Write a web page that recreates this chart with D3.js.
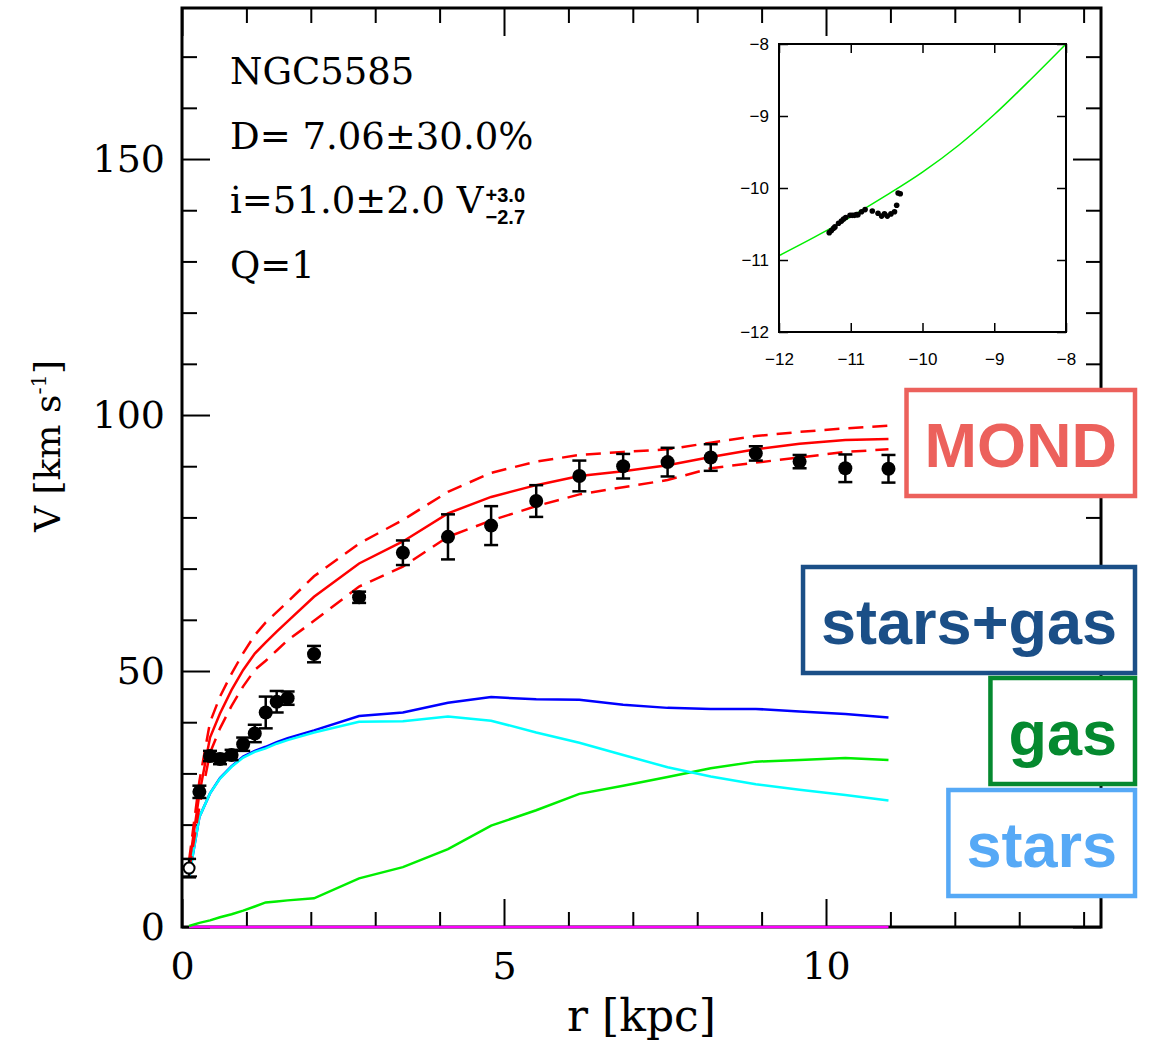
<!DOCTYPE html>
<html>
<head>
<meta charset="utf-8">
<script src="https://cdn.jsdelivr.net/npm/d3@7"></script>
<style>
  body { margin: 0; background: #fff; }
  svg { display: block; }
</style>
</head>
<body>
<svg id="chart" width="1149" height="1045"></svg>
<script>
// ---- rotation curve of NGC5585 ----
const radius  = [0.11, 0.27, 0.435, 0.59, 0.77, 0.95, 1.13, 1.30, 1.47, 1.64, 2.05, 2.75,
                 3.43, 4.13, 4.80, 5.50, 6.17, 6.85, 7.54, 8.21, 8.91, 9.59, 10.30, 10.97];
const vObs    = [11.5, 26.4, 33.4, 32.8, 33.6, 35.7, 37.8, 41.9, 44.0, 44.7, 53.3, 64.4,
                 73.1, 76.2, 78.4, 83.2, 88.1, 90.0, 90.8, 91.7, 92.5, 90.9, 89.6, 89.5];
const vErr    = [1.8, 1.2, 1.0, 1.0, 1.0, 1.3, 1.7, 3.1, 2.1, 1.3, 1.6, 1.1,
                 2.4, 4.4, 3.8, 3.1, 3.0, 2.4, 2.8, 2.6, 1.4, 1.3, 2.7, 2.7];
const excluded = [true, false, false, false, false, false, false, false, false, false, false, false,
                  false, false, false, false, false, false, false, false, false, false, false, false];

// model components
const vGas    = [0.2, 0.8, 1.3, 1.9, 2.5, 3.2, 4.0, 4.8, 5.0, 5.2, 5.6, 9.5,
                 11.7, 15.2, 19.8, 22.8, 26.0, 27.6, 29.3, 31.0, 32.3, 32.6, 33.0, 32.6];
const vStars  = [9.8, 21.5, 26.1, 29.0, 31.3, 33.1, 34.2, 34.9, 35.8, 36.5, 38.0, 40.1,
                 40.2, 41.1, 40.3, 38.0, 36.0, 33.6, 31.2, 29.4, 27.9, 26.8, 25.8, 24.7];
const vBar    = [9.8, 21.5, 26.1, 29.1, 31.4, 33.3, 34.4, 35.2, 36.1, 36.9, 38.4, 41.2,
                 41.9, 43.8, 44.9, 44.5, 44.4, 43.4, 42.8, 42.6, 42.6, 42.1, 41.6, 40.9];
const vBulge  = [0, 0, 0, 0, 0, 0, 0, 0, 0, 0, 0, 0,
                 0, 0, 0, 0, 0, 0, 0, 0, 0, 0, 0, 0];
const vMond   = [12.0, 26.0, 37.0, 41.7, 46.3, 50.2, 53.4, 55.6, 57.7, 59.7, 64.5, 71.0,
                 75.3, 80.8, 84.0, 86.3, 88.1, 89.0, 90.2, 91.8, 93.3, 94.4, 95.1, 95.3];
const vMondHi = [13.0, 28.5, 40.0, 45.0, 49.5, 53.5, 57.0, 59.5, 61.5, 63.5, 68.5, 74.9,
                 79.5, 85.0, 88.7, 90.9, 92.2, 92.8, 93.3, 94.6, 95.9, 96.7, 97.4, 97.9];
const vMondLo = [11.0, 23.5, 34.0, 38.8, 43.2, 47.0, 50.2, 52.0, 54.0, 56.0, 59.8, 66.5,
                 70.4, 76.2, 79.4, 82.2, 84.5, 85.9, 87.3, 89.6, 90.7, 91.7, 92.8, 93.3];

const xTickLabels = [0, 5, 10];
const yTickLabels = [0, 50, 100, 150];

const infoLines = ["NGC5585", "D= 7.06\u00b130.0%", "i=51.0\u00b12.0 V", "Q=1"];
const vSup = "+3.0";
const vSub = "\u22122.7";

const legendLabels = ["MOND", "stars+gas", "gas", "stars"];
const legendColors = ["#ec615c", "#1b4f87", "#05892f", "#56a9f6"];

// radial acceleration relation (log10 m s^-2)
const raGbar = [-11.30, -11.27, -11.24, -11.22, -11.17, -11.13, -11.10, -11.07, -11.01, -10.98,
                -10.95, -10.92, -10.90, -10.85, -10.80, -10.70, -10.62, -10.57, -10.53, -10.49,
                -10.44, -10.39, -10.36, -10.34, -10.31];
const raGobs = [-10.62, -10.59, -10.56, -10.54, -10.49, -10.46, -10.43, -10.41, -10.38, -10.38,
                -10.38, -10.37, -10.37, -10.33, -10.30, -10.32, -10.35, -10.39, -10.36, -10.39,
                -10.36, -10.33, -10.24, -10.07, -10.08];
const relGbar = [-12.0, -11.5, -11.0, -10.5, -10.0, -9.5, -9.0, -8.5, -8.0];
const relGobs = [-10.94, -10.68, -10.40, -10.10, -9.78, -9.41, -8.98, -8.50, -8.0];
const insetTicks = [-12, -11, -10, -9, -8];

// ---- layout ----
const svg = d3.select("#chart");
const P = { left: 182, right: 1101, top: 8, bottom: 927 };
const x = d3.scaleLinear().domain([0, 14.27]).range([P.left, P.right]);
const y = d3.scaleLinear().domain([0, 179.5]).range([P.bottom, P.top]);

const serif = "'DejaVu Serif', 'Liberation Serif', serif";
const sans = "'Liberation Sans', Arial, Helvetica, sans-serif";

// ---- axes: ticks point inward on all four sides ----
const minorX = d3.range(0, 15).filter(v => v % 5 !== 0);
const minorY = d3.range(0, 180, 10).filter(v => v % 50 !== 0);
const majorX = [0, 5, 10];
const majorY = [0, 50, 100, 150];

function styleAxis(g, labels) {
  g.select(".domain").remove();
  g.selectAll(".tick line").attr("stroke", "#000").attr("stroke-width", 2);
  if (!labels) g.selectAll(".tick text").remove();
  else g.selectAll(".tick text")
        .attr("font-family", serif).attr("font-size", 38).attr("fill", "#000");
}

svg.append("g").attr("transform", `translate(0,${P.bottom})`)
  .call(d3.axisBottom(x).tickValues(minorX).tickSize(-15)).call(g => styleAxis(g, false));
svg.append("g").attr("transform", `translate(0,${P.bottom})`)
  .call(d3.axisBottom(x).tickValues(xTickLabels).tickSize(-28).tickPadding(25).tickFormat(d3.format("d")))
  .call(g => styleAxis(g, true));
svg.append("g").attr("transform", `translate(0,${P.top})`)
  .call(d3.axisTop(x).tickValues(minorX).tickSize(-15)).call(g => styleAxis(g, false));
svg.append("g").attr("transform", `translate(0,${P.top})`)
  .call(d3.axisTop(x).tickValues(majorX).tickSize(-28)).call(g => styleAxis(g, false));

svg.append("g").attr("transform", `translate(${P.left},0)`)
  .call(d3.axisLeft(y).tickValues(minorY).tickSize(-15)).call(g => styleAxis(g, false));
svg.append("g").attr("transform", `translate(${P.left},0)`)
  .call(d3.axisLeft(y).tickValues(yTickLabels).tickSize(-28).tickPadding(17).tickFormat(d3.format("d")))
  .call(g => styleAxis(g, true));
svg.append("g").attr("transform", `translate(${P.right},0)`)
  .call(d3.axisRight(y).tickValues(minorY).tickSize(-15)).call(g => styleAxis(g, false));
svg.append("g").attr("transform", `translate(${P.right},0)`)
  .call(d3.axisRight(y).tickValues(majorY).tickSize(-28)).call(g => styleAxis(g, false));

svg.append("rect")
  .attr("x", P.left).attr("y", P.top)
  .attr("width", P.right - P.left).attr("height", P.bottom - P.top)
  .attr("fill", "none").attr("stroke", "#000").attr("stroke-width", 3);

// axis titles
svg.append("text")
  .attr("x", (P.left + P.right) / 2).attr("y", 1031)
  .attr("text-anchor", "middle")
  .attr("font-family", serif).attr("font-size", 44)
  .text("r [kpc]");

const yTitle = svg.append("text")
  .attr("transform", "translate(60,446) rotate(-90)")
  .attr("text-anchor", "middle")
  .attr("font-family", serif).attr("font-size", 36);
yTitle.append("tspan").text("V [km s");
yTitle.append("tspan").attr("font-size", 21).attr("dy", -14).text("-1");
yTitle.append("tspan").attr("dy", 14).text("]");

// ---- model curves ----
const idx = d3.range(radius.length);
function curve(values) {
  return d3.line().x(i => x(radius[i])).y(i => y(values[i]))(idx);
}
const curveLayers = [
  { v: vBulge,  color: "#ff00ff", dash: null },
  { v: vGas,    color: "#00ee00", dash: null },
  { v: vBar,    color: "#0000ff", dash: null },
  { v: vStars,  color: "#00ffff", dash: null },
  { v: vMondHi, color: "#ff0000", dash: "15,9" },
  { v: vMondLo, color: "#ff0000", dash: "15,9" },
  { v: vMond,   color: "#ff0000", dash: null }
];
svg.append("g").selectAll("path").data(curveLayers).join("path")
  .attr("d", d => curve(d.v))
  .attr("fill", "none")
  .attr("stroke", d => d.color)
  .attr("stroke-width", 2.5)
  .attr("stroke-dasharray", d => d.dash);

// ---- observed points with error bars ----
const pts = svg.append("g");
const capHalf = 7;
pts.selectAll("line.bar").data(idx).join("line")
  .attr("x1", i => x(radius[i])).attr("x2", i => x(radius[i]))
  .attr("y1", i => y(vObs[i] - vErr[i])).attr("y2", i => y(vObs[i] + vErr[i]))
  .attr("stroke", "#000").attr("stroke-width", 2.5);
pts.selectAll("line.capTop").data(idx).join("line")
  .attr("x1", i => x(radius[i]) - capHalf).attr("x2", i => x(radius[i]) + capHalf)
  .attr("y1", i => y(vObs[i] + vErr[i])).attr("y2", i => y(vObs[i] + vErr[i]))
  .attr("stroke", "#000").attr("stroke-width", 2.5);
pts.selectAll("line.capBot").data(idx).join("line")
  .attr("x1", i => x(radius[i]) - capHalf).attr("x2", i => x(radius[i]) + capHalf)
  .attr("y1", i => y(vObs[i] - vErr[i])).attr("y2", i => y(vObs[i] - vErr[i]))
  .attr("stroke", "#000").attr("stroke-width", 2.5);
pts.selectAll("circle").data(idx).join("circle")
  .attr("cx", i => x(radius[i])).attr("cy", i => y(vObs[i]))
  .attr("r", i => excluded[i] ? 5.5 : 7)
  .attr("fill", i => excluded[i] ? "#fff" : "#000")
  .attr("stroke", "#000").attr("stroke-width", i => excluded[i] ? 2 : 0);

// ---- galaxy info ----
const info = svg.append("g").attr("font-family", serif).attr("font-size", 37).attr("fill", "#000");
const infoTexts = info.selectAll("text").data(infoLines).join("text")
  .attr("x", 230).attr("y", (d, i) => 84 + i * 64.7)
  .style("white-space", "pre")
  .text(d => d);
const vLine = infoTexts.filter((d, i) => i === 2).node();
const supX = 230 + vLine.getComputedTextLength() + 2;
info.append("text").attr("x", supX).attr("y", 202)
  .attr("font-family", sans).attr("font-weight", "bold").attr("font-size", 20).text(vSup);
info.append("text").attr("x", supX).attr("y", 224)
  .attr("font-family", sans).attr("font-weight", "bold").attr("font-size", 20).text(vSub);

// ---- inset: radial acceleration relation ----
const I = { left: 779, right: 1066, top: 44, bottom: 332 };
const ix = d3.scaleLinear().domain([-12, -8]).range([I.left, I.right]);
const iy = d3.scaleLinear().domain([-12, -8]).range([I.bottom, I.top]);
const inset = svg.append("g");
inset.append("rect")
  .attr("x", I.left).attr("y", I.top)
  .attr("width", I.right - I.left).attr("height", I.bottom - I.top)
  .attr("fill", "#fff");

function styleInset(g, labels) {
  g.select(".domain").remove();
  g.selectAll(".tick line").attr("stroke", "#000").attr("stroke-width", 1.5);
  if (!labels) g.selectAll(".tick text").remove();
  else g.selectAll(".tick text").attr("font-family", sans).attr("font-size", 17).attr("fill", "#000");
}
const minusFmt = d => "\u2212" + Math.abs(d);
inset.append("g").attr("transform", `translate(0,${I.bottom})`)
  .call(d3.axisBottom(ix).tickValues(insetTicks).tickSize(-9).tickPadding(21).tickFormat(minusFmt))
  .call(g => styleInset(g, true));
inset.append("g").attr("transform", `translate(${I.left},0)`)
  .call(d3.axisLeft(iy).tickValues(insetTicks).tickSize(-9).tickPadding(10).tickFormat(minusFmt))
  .call(g => styleInset(g, true));
inset.append("g").attr("transform", `translate(0,${I.top})`)
  .call(d3.axisTop(ix).tickValues(insetTicks).tickSize(-9)).call(g => styleInset(g, false));
inset.append("g").attr("transform", `translate(${I.right},0)`)
  .call(d3.axisRight(iy).tickValues(insetTicks).tickSize(-9)).call(g => styleInset(g, false));

inset.append("path")
  .attr("d", d3.line().curve(d3.curveMonotoneX)
    .x((d, i) => ix(relGbar[i])).y((d, i) => iy(relGobs[i]))(relGbar))
  .attr("fill", "none").attr("stroke", "#00ee00").attr("stroke-width", 1.5);
inset.selectAll("circle").data(raGbar).join("circle")
  .attr("cx", (d, i) => ix(raGbar[i])).attr("cy", (d, i) => iy(raGobs[i]))
  .attr("r", 2.8).attr("fill", "#000");
inset.append("rect")
  .attr("x", I.left).attr("y", I.top)
  .attr("width", I.right - I.left).attr("height", I.bottom - I.top)
  .attr("fill", "none").attr("stroke", "#000").attr("stroke-width", 2);

// ---- labelled boxes ----
const boxTops = [390, 567, 678, 790];
const boxRight = 1135, boxH = 106, boxPad = 16;
legendLabels.forEach((label, i) => {
  const g = svg.append("g");
  const rect = g.append("rect");
  const t = g.append("text")
    .attr("font-family", sans).attr("font-weight", "bold").attr("font-size", 63)
    .attr("fill", legendColors[i]).attr("text-anchor", "end")
    .attr("x", boxRight - boxPad - 2).attr("y", boxTops[i] + 77)
    .text(label);
  const w = t.node().getComputedTextLength() + 2 * boxPad + 4;
  rect.attr("x", boxRight - w).attr("y", boxTops[i])
    .attr("width", w).attr("height", boxH)
    .attr("fill", "#fff").attr("stroke", legendColors[i]).attr("stroke-width", 4.5);
});
</script>
</body>
</html>
